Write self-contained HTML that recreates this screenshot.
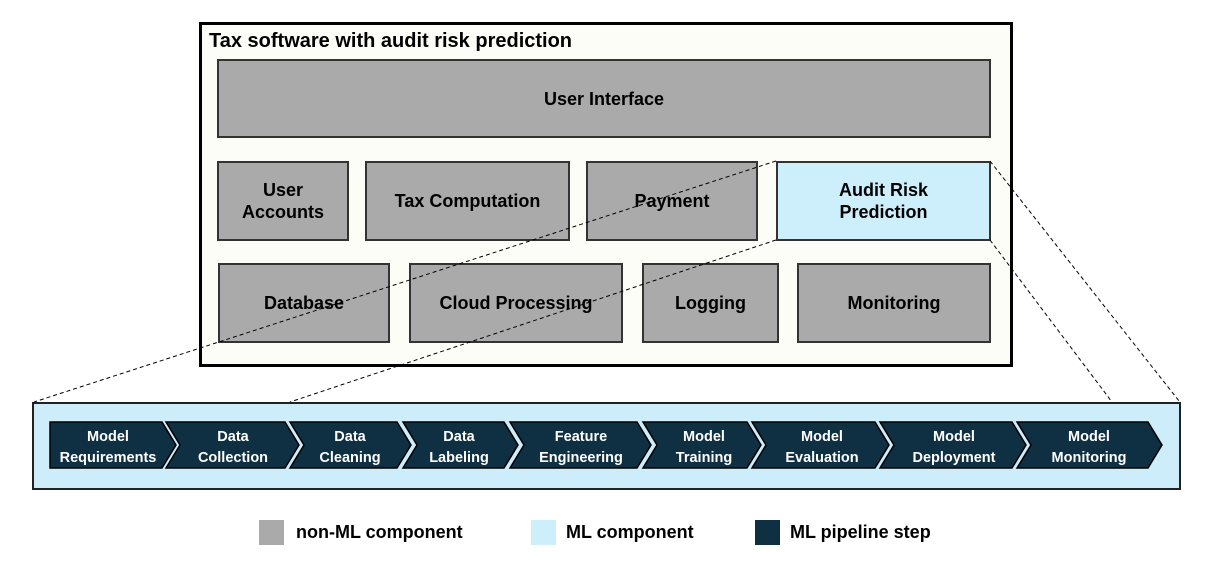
<!DOCTYPE html>
<html><head><style>
body{margin:0;width:1210px;height:575px;background:#fff;position:relative;font-family:"Liberation Sans",sans-serif;overflow:hidden}
.b{position:absolute;box-sizing:border-box;border:2px solid #333;background:#aaa;display:flex;align-items:center;justify-content:center;text-align:center;font-weight:bold;font-size:18px;color:#000;line-height:22px}
.l{position:absolute;font-weight:bold;font-size:18px}
</style></head><body>
<div style="position:absolute;left:199px;top:22px;width:814px;height:345px;box-sizing:border-box;border:3px solid #000;background:#fcfdf6"></div>
<div class="l" style="left:209px;top:30px;font-size:20px">Tax software with audit risk prediction</div>
<div class="b" style="left:217px;top:59px;width:774px;height:79px">User Interface</div>
<div class="b" style="left:217px;top:161px;width:132px;height:80px">User<br>Accounts</div>
<div class="b" style="left:365px;top:161px;width:205px;height:80px">Tax Computation</div>
<div class="b" style="left:586px;top:161px;width:172px;height:80px">Payment</div>
<div class="b" style="left:776px;top:161px;width:215px;height:80px;background:#cdeefb">Audit Risk<br>Prediction</div>
<div class="b" style="left:218px;top:263px;width:172px;height:80px">Database</div>
<div class="b" style="left:409px;top:263px;width:214px;height:80px">Cloud Processing</div>
<div class="b" style="left:642px;top:263px;width:137px;height:80px">Logging</div>
<div class="b" style="left:797px;top:263px;width:194px;height:80px">Monitoring</div>
<div style="position:absolute;left:32px;top:402px;width:1149px;height:88px;box-sizing:border-box;border:2px solid #222;background:#cdedfa"></div>
<svg width="1210" height="575" style="position:absolute;left:0;top:0">
<g stroke="#000" stroke-width="1" stroke-dasharray="4,3" fill="none">
<line x1="776" y1="161" x2="34" y2="402"/>
<line x1="776" y1="240" x2="290" y2="402"/>
<line x1="990" y1="161" x2="1179" y2="401"/>
<line x1="990" y1="240" x2="1112" y2="402"/>
</g>
<g fill="#0f2f42" stroke="#000" stroke-width="1.5">
<polygon points="50,422 162,422 176,445 162,468 50,468"/>
<polygon points="166,422 285,422 299,445 285,468 166,468 180,445"/>
<polygon points="290,422 397,422 411,445 397,468 290,468 304,445"/>
<polygon points="403,422 504,422 518,445 504,468 403,468 417,445"/>
<polygon points="510,422 637,422 651,445 637,468 510,468 524,445"/>
<polygon points="643,422 747,422 761,445 747,468 643,468 657,445"/>
<polygon points="752,422 875,422 889,445 875,468 752,468 766,445"/>
<polygon points="880,422 1012,422 1026,445 1012,468 880,468 894,445"/>
<polygon points="1017,422 1148,422 1162,445 1148,468 1017,468 1031,445"/>
</g>
<g fill="#fff" font-family="Liberation Sans,sans-serif" font-weight="bold" font-size="14.5" text-anchor="middle">
<text x="108" y="441">Model</text><text x="108" y="462">Requirements</text>
<text x="233" y="441">Data</text><text x="233" y="462">Collection</text>
<text x="350" y="441">Data</text><text x="350" y="462">Cleaning</text>
<text x="459" y="441">Data</text><text x="459" y="462">Labeling</text>
<text x="581" y="441">Feature</text><text x="581" y="462">Engineering</text>
<text x="704" y="441">Model</text><text x="704" y="462">Training</text>
<text x="822" y="441">Model</text><text x="822" y="462">Evaluation</text>
<text x="954" y="441">Model</text><text x="954" y="462">Deployment</text>
<text x="1089" y="441">Model</text><text x="1089" y="462">Monitoring</text>
</g>
</svg>
<div style="position:absolute;left:259px;top:520px;width:25px;height:25px;background:#aaa"></div>
<div class="l" style="left:296px;top:522px">non-ML component</div>
<div style="position:absolute;left:531px;top:520px;width:25px;height:25px;background:#cdeefb"></div>
<div class="l" style="left:566px;top:522px">ML component</div>
<div style="position:absolute;left:755px;top:520px;width:25px;height:25px;background:#0f2f42"></div>
<div class="l" style="left:790px;top:522px">ML pipeline step</div>
</body></html>
